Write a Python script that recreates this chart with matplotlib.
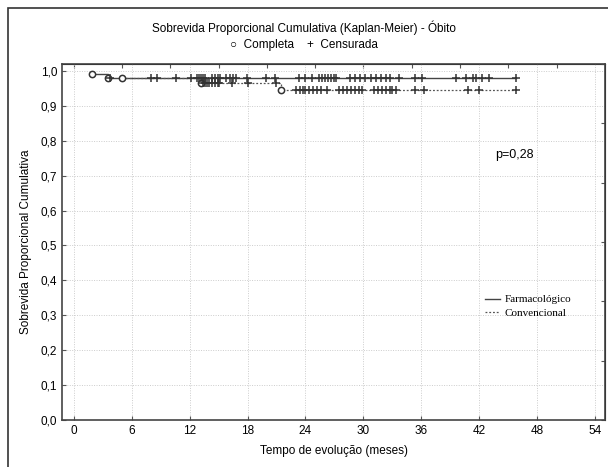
import matplotlib.pyplot as plt
from matplotlib.patches import Rectangle
import numpy as np

# Tempo (meses) e sobrevida após cada evento (óbito)
farm_evento_t = [1.9, 3.6]
farm_evento_s = [0.99, 0.98]
farm_fim = 45.8
farm_censura = [3.8, 8.0, 8.6, 10.6, 12.2, 12.8, 13.0, 13.2, 13.4, 13.6, 14.3, 14.6,
                14.9, 15.2, 15.8, 16.2, 16.5, 16.8, 17.9, 19.9, 20.8, 23.3, 24.0, 24.7,
                25.4, 25.7, 26.0, 26.3, 26.6, 26.9, 27.2, 28.6, 29.1, 29.6, 30.2, 30.8,
                31.3, 31.8, 32.3, 32.7, 33.7, 35.3, 36.1, 39.6, 40.6, 41.3, 41.7, 42.3,
                43.0, 45.8]

conv_evento_t = [5.0, 13.2, 21.5]
conv_evento_s = [0.98, 0.966, 0.945]
conv_fim = 45.8
conv_censura = [13.4, 13.6, 13.8, 14.0, 14.3, 14.6, 14.9, 15.1, 16.4, 18.0, 21.0,
                23.0, 23.4, 23.7, 24.0, 24.4, 24.8, 25.2, 25.6, 26.2, 27.5, 27.9, 28.3,
                28.7, 29.1, 29.5, 29.8, 31.1, 31.5, 31.9, 32.3, 32.7, 33.0, 33.4, 35.3,
                36.3, 40.8, 42.0, 45.8]

x_ticks = [0, 6, 12, 18, 24, 30, 36, 42, 48, 54]
y_ticks = [0.0, 0.1, 0.2, 0.3, 0.4, 0.5, 0.6, 0.7, 0.8, 0.9, 1.0]


def degraus(ev_t, ev_s, fim):
    # a curva começa no primeiro evento, como no gráfico original
    t = ev_t + [fim]
    s = ev_s + [ev_s[-1]]
    return t, s


def sobrevida(t, ev_t, ev_s):
    s = 1.0
    for et, es in zip(ev_t, ev_s):
        if t >= et:
            s = es
    return s


plt.rcParams['font.family'] = ['Liberation Sans', 'DejaVu Sans']
fig = plt.figure(figsize=(6.08, 4.67), dpi=100)
ax = fig.add_axes([62 / 608, 1 - 420 / 467, 543 / 608, 356 / 467])

t, s = degraus(farm_evento_t, farm_evento_s, farm_fim)
ax.step(t, s, where='post', color='#444444', lw=1.0, label='Farmacológico')
t, s = degraus(conv_evento_t, conv_evento_s, conv_fim)
ax.step(t, s, where='post', color='#555555', lw=0.9, ls=(0, (1.5, 1.5)), label='Convencional')

ax.plot(farm_evento_t, farm_evento_s, 'o', ms=4.5, mfc='white', mec='#333333', mew=1.1)
ax.plot(conv_evento_t, conv_evento_s, 'o', ms=4.5, mfc='white', mec='#333333', mew=1.1)
ax.plot(farm_censura, [sobrevida(c, farm_evento_t, farm_evento_s) for c in farm_censura],
        '+', ms=6, mew=1.1, color='#333333')
ax.plot(conv_censura, [sobrevida(c, conv_evento_t, conv_evento_s) for c in conv_censura],
        '+', ms=6, mew=1.1, color='#333333')

ax.set_xlim(-1.2, 55)
ax.set_ylim(0, 1.02)
ax.set_xticks(x_ticks)
ax.set_yticks(y_ticks)
ax.set_yticklabels([f'{v:.1f}'.replace('.', ',') for v in y_ticks])
ax.tick_params(direction='in', length=3, labelsize=8.5, color='#555555')
ax.grid(True, ls=(0, (1, 1.5)), color='#cccccc', lw=0.7)
ax.set_axisbelow(True)
for sp in ax.spines.values():
    sp.set_color('#444444')
    sp.set_linewidth(1.2)

# eixos secundários (marcas sem rótulo)
top = ax.secondary_xaxis('top')
top.set_xticks(np.arange(0, 55, 5))
top.tick_params(direction='in', length=3, labeltop=False, color='#555555')
right = ax.secondary_yaxis('right')
right.set_yticks(np.linspace(0, 1.02, 7))
right.tick_params(direction='in', length=3, labelright=False, color='#555555')

ax.set_xlabel('Tempo de evolução (meses)', fontsize=8.5, labelpad=6)
ax.set_ylabel('Sobrevida Proporcional Cumulativa', fontsize=8.5, labelpad=6)

ax.text(45.6, 0.76, 'p=0,28', fontsize=9, ha='center', va='center')

ax.legend(loc='upper left', bbox_to_anchor=(0.76, 0.38), frameon=False,
          prop={'family': 'Liberation Serif', 'size': 8}, handlelength=1.4,
          handletextpad=0.4, labelspacing=0.3)

fig.text(0.5, 1 - 28 / 467, 'Sobrevida Proporcional Cumulativa (Kaplan-Meier) - Óbito',
         ha='center', va='center', fontsize=8.5)
fig.text(0.5, 1 - 45 / 467, '\u25cb  Completa    +  Censurada',
         ha='center', va='center', fontsize=8.5)

fig.patches.append(Rectangle((8 / 608, -0.05), 1.0, 1 - 8 / 467 + 0.05,
                             transform=fig.transFigure, fill=False,
                             edgecolor='#333333', lw=1.2))

fig.savefig('out.png', dpi=100)
